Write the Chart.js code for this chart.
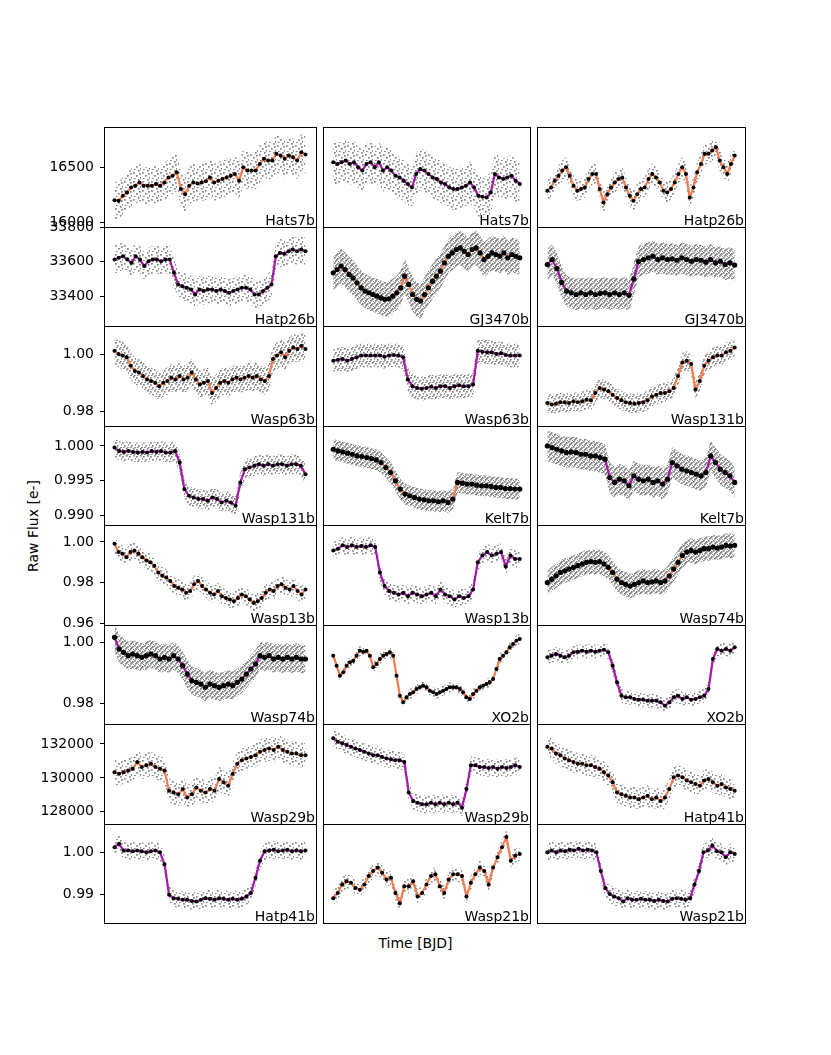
<!DOCTYPE html>
<html>
<head>
<meta charset="utf-8">
<script src="https://cdn.jsdelivr.net/npm/chart.js@4.4.1/dist/chart.umd.min.js"></script>
<style>
  body { margin: 0; background: #fff; width: 831px; height: 1055px; position: relative; overflow: hidden; }
  .lab { position: absolute; font-family: "DejaVu Sans", sans-serif; font-size: 14px; line-height: 16px; color: #000; white-space: nowrap; }
  #xlab { left: 0; width: 831px; top: 935px; text-align: center; }
  #ylab { left: 33px; top: 526px; transform: translate(-50%, -50%) rotate(-90deg); }
</style>
</head>
<body>
<div class="lab" id="xlab">Time [BJD]</div>
<div class="lab" id="ylab">Raw Flux [e-]</div>
<script>
// binned light curves (one array per panel)
const hats7b_1 = [16205,16199,16245,16276,16321,16337,16367,16337,16337,16337,16352,16337,16367,16413,16429,16459,16306,16260,16337,16367,16358,16367,16377,16413,16367,16383,16398,16413,16429,16444,16383,16505,16475,16475,16475,16536,16582,16567,16567,16628,16613,16582,16613,16597,16567,16643,16622];
const hats7b_2 = [16551,16536,16551,16567,16536,16551,16505,16475,16536,16551,16505,16551,16475,16505,16475,16429,16413,16383,16352,16321,16444,16490,16475,16444,16413,16398,16367,16352,16321,16306,16306,16321,16337,16367,16321,16245,16236,16230,16276,16444,16413,16398,16413,16429,16383,16352];
const hatp26b_1 = [16291,16321,16383,16429,16475,16505,16429,16337,16291,16306,16321,16398,16444,16444,16306,16184,16260,16321,16367,16398,16413,16321,16245,16199,16260,16306,16321,16398,16444,16413,16367,16291,16276,16306,16367,16444,16505,16444,16230,16321,16459,16536,16628,16628,16659,16689,16567,16505,16444,16536,16613];
const hatp26b_2 = [33612,33622,33631,33612,33593,33631,33612,33574,33602,33612,33612,33602,33612,33612,33535,33468,33458,33449,33439,33410,33439,33430,33439,33439,33430,33439,33430,33420,33430,33439,33449,33449,33439,33410,33410,33430,33449,33468,33631,33650,33646,33660,33670,33660,33670,33660];
const gj3470b_1 = [33535,33554,33574,33554,33526,33506,33478,33449,33430,33420,33410,33401,33391,33382,33385,33401,33420,33449,33516,33468,33410,33382,33372,33410,33449,33487,33516,33545,33593,33631,33650,33670,33679,33660,33641,33670,33679,33650,33612,33631,33650,33641,33631,33650,33622,33641,33631,33622];
const gj3470b_2 = [33583,33612,33560,33480,33430,33420,33410,33420,33410,33420,33410,33416,33420,33410,33420,33410,33420,33405,33500,33600,33612,33622,33631,33612,33622,33612,33616,33608,33622,33612,33602,33612,33608,33597,33612,33593,33602,33583,33593,33580];
const wasp63b_1 = [1.0014,1.0003,0.9997,0.9991,0.9961,0.9943,0.9937,0.9925,0.9913,0.9907,0.9901,0.9889,0.9901,0.9907,0.9919,0.9913,0.9925,0.9913,0.9919,0.9937,0.9913,0.9895,0.9901,0.9907,0.9865,0.9883,0.9901,0.9907,0.9901,0.9913,0.9919,0.9913,0.9919,0.9925,0.9919,0.9925,0.9913,0.9907,0.9925,0.9985,0.9997,1.0009,0.9991,1.0014,1.0026,1.0020,1.0032,1.0020];
const wasp63b_2 = [0.9979,0.9982,0.9985,0.9979,0.9985,0.9991,0.9997,0.9997,0.9997,0.9997,0.9997,0.9993,0.9997,0.9999,0.9997,0.9991,0.9913,0.9889,0.9883,0.9880,0.9883,0.9887,0.9883,0.9889,0.9889,0.9883,0.9889,0.9892,0.9889,0.9889,0.9895,1.0014,1.0011,1.0009,1.0009,1.0003,1.0005,0.9999,0.9997,0.9997,0.9997];
const wasp131b_1 = [0.9830,0.9824,0.9827,0.9832,0.9832,0.9830,0.9836,0.9832,0.9836,0.9841,0.9839,0.9865,0.9883,0.9877,0.9871,0.9859,0.9847,0.9839,0.9832,0.9830,0.9827,0.9830,0.9832,0.9839,0.9853,0.9859,0.9865,0.9865,0.9871,0.9883,0.9925,0.9973,0.9979,0.9967,0.9877,0.9907,0.9961,0.9979,0.9991,0.9997,0.9997,1.0009,1.0014,1.0026];
const wasp131b_2 = [0.99976,0.99928,0.99914,0.99928,0.99914,0.99904,0.99914,0.99904,0.99928,0.99914,0.99928,0.99904,0.99904,0.99928,0.99761,0.99378,0.99282,0.99258,0.99234,0.99234,0.99210,0.99258,0.99234,0.99186,0.99210,0.99186,0.99139,0.99474,0.99665,0.99689,0.99713,0.99737,0.99713,0.99737,0.99713,0.99737,0.99737,0.99713,0.99737,0.99737,0.99713,0.99593];
const kelt7b_1 = [0.99952,0.99928,0.99914,0.99895,0.99880,0.99856,0.99847,0.99832,0.99818,0.99799,0.99761,0.99689,0.99617,0.99497,0.99378,0.99306,0.99282,0.99258,0.99234,0.99225,0.99210,0.99210,0.99196,0.99210,0.99186,0.99234,0.99474,0.99464,0.99450,0.99450,0.99435,0.99426,0.99426,0.99416,0.99402,0.99402,0.99387,0.99387,0.99378,0.99378];
const kelt7b_2 = [1.00000,0.99976,0.99952,0.99928,0.99904,0.99914,0.99904,0.99880,0.99880,0.99856,0.99856,0.99832,0.99809,0.99545,0.99474,0.99521,0.99497,0.99426,0.99569,0.99521,0.99497,0.99521,0.99474,0.99497,0.99450,0.99521,0.99761,0.99713,0.99665,0.99641,0.99617,0.99593,0.99569,0.99617,0.99856,0.99761,0.99665,0.99617,0.99569,0.99474];
const wasp13b_1 = [0.99919,0.99502,0.99419,0.99252,0.99502,0.99586,0.99419,0.99252,0.99086,0.99002,0.98836,0.98503,0.98336,0.98253,0.98086,0.97836,0.97753,0.97670,0.97503,0.97586,0.97920,0.98086,0.97836,0.97670,0.97503,0.97420,0.97586,0.97336,0.97253,0.97170,0.97087,0.97253,0.97420,0.97336,0.97170,0.97003,0.97087,0.97253,0.97503,0.97670,0.97586,0.97836,0.97920,0.97753,0.97670,0.97836,0.97586,0.97420,0.97670];
const wasp13b_2 = [0.99586,0.99669,0.99835,0.99752,0.99835,0.99752,0.99802,0.99752,0.99835,0.99752,0.98503,0.97836,0.97586,0.97503,0.97420,0.97503,0.97336,0.97503,0.97420,0.97336,0.97420,0.97503,0.97336,0.97670,0.97420,0.97336,0.97170,0.97336,0.97253,0.97336,0.97670,0.99002,0.99336,0.99502,0.99336,0.99419,0.99502,0.98800,0.99336,0.99169,0.99169];
const wasp74b_1 = [0.98003,0.98170,0.98336,0.98503,0.98586,0.98669,0.98753,0.98836,0.98919,0.99002,0.99036,0.99002,0.99036,0.98919,0.98753,0.98503,0.98170,0.98003,0.97920,0.97836,0.97920,0.98003,0.98086,0.98003,0.98036,0.98086,0.98003,0.98086,0.98336,0.98669,0.99002,0.99336,0.99502,0.99586,0.99502,0.99586,0.99669,0.99669,0.99752,0.99702,0.99752,0.99835,0.99802,0.99835];
const wasp74b_2 = [1.00163,0.99780,0.99671,0.99561,0.99616,0.99561,0.99507,0.99561,0.99616,0.99561,0.99452,0.99507,0.99452,0.99561,0.99452,0.99234,0.98960,0.98742,0.98687,0.98632,0.98523,0.98632,0.98578,0.98523,0.98578,0.98632,0.98578,0.98687,0.98796,0.98960,0.99124,0.99288,0.99561,0.99507,0.99561,0.99452,0.99507,0.99452,0.99507,0.99452,0.99507,0.99452,0.99452];
const xo2b_1 = [0.99561,0.99234,0.98906,0.99015,0.99234,0.99343,0.99398,0.99561,0.99725,0.99693,0.99725,0.99561,0.99179,0.99288,0.99452,0.99561,0.99616,0.99671,0.99561,0.98906,0.98250,0.98031,0.98195,0.98305,0.98359,0.98469,0.98523,0.98578,0.98523,0.98414,0.98359,0.98305,0.98359,0.98414,0.98469,0.98523,0.98523,0.98523,0.98469,0.98359,0.98195,0.98141,0.98305,0.98414,0.98523,0.98578,0.98632,0.98687,0.98796,0.99124,0.99452,0.99561,0.99671,0.99835,0.99944,1.00053,1.00108];
const xo2b_2 = [0.99507,0.99561,0.99616,0.99561,0.99507,0.99561,0.99671,0.99693,0.99725,0.99693,0.99725,0.99693,0.99725,0.99758,0.99671,0.99234,0.98687,0.98250,0.98195,0.98195,0.98141,0.98119,0.98119,0.98086,0.98086,0.98086,0.98031,0.97922,0.98031,0.98195,0.98250,0.98141,0.98195,0.98119,0.98141,0.98195,0.98250,0.98469,0.99452,0.99780,0.99725,0.99780,0.99725,0.99835];
const wasp29b_1 = [130341,130241,130341,130441,130541,130940,130641,130740,130840,130641,130541,130441,129242,129142,129042,129342,128842,129042,129442,129242,129142,129342,129242,129941,129741,129542,130241,130840,131040,131140,131240,131340,131540,131640,131739,131640,131839,131640,131540,131440,131440,131340,131340];
const wasp29b_2 = [132339,132139,132039,131939,131839,131739,131640,131540,131440,131340,131340,131240,131140,131100,131040,131040,130940,129142,128643,128543,128443,128443,128543,128443,128543,128443,128543,128443,128543,128243,129342,130740,130740,130641,130641,130581,130641,130541,130641,130581,130641,130740,130641];
const hatp41b_1 = [131839,131739,131440,131340,131140,131040,130940,130840,130840,130740,130740,130641,130541,130341,130141,129741,129142,129042,128942,128842,128842,128742,128842,128942,128742,128842,128643,128842,129342,130041,130141,130041,129841,129741,129642,129542,129841,129941,129741,129542,129642,129442,129342,129242];
const hatp41b_2 = [1.00122,1.00204,1.00041,1.00041,1.00025,1.00041,1.00025,1.00000,1.00025,1.00041,1.00000,0.99715,0.98983,0.98901,0.98885,0.98861,0.98861,0.98836,0.98820,0.98861,0.98901,0.98885,0.98861,0.98901,0.98885,0.98861,0.98885,0.98861,0.98885,0.98942,0.99024,0.99390,0.99797,1.00025,1.00041,1.00057,1.00025,1.00041,1.00057,1.00025,1.00041,1.00025,1.00041];
const wasp21b_1 = [0.98901,0.99024,0.99227,0.99308,0.99268,0.99146,0.99105,0.99227,0.99431,0.99553,0.99634,0.99512,0.99349,0.99390,0.99024,0.98779,0.99186,0.99186,0.99308,0.98942,0.99024,0.99227,0.99431,0.99471,0.99186,0.99024,0.99349,0.99471,0.99471,0.99431,0.98942,0.99268,0.99471,0.99634,0.99553,0.99227,0.99634,0.99878,1.00122,1.00367,0.99797,0.99919,0.99960];
const wasp21b_2 = [1.00000,1.00041,1.00000,1.00041,1.00025,1.00057,1.00041,1.00082,1.00041,1.00057,1.00041,1.00000,0.99553,0.99146,0.98999,0.98942,0.98901,0.98820,0.98901,0.98861,0.98861,0.98885,0.98861,0.98861,0.98836,0.98861,0.98836,0.98820,0.98885,0.98901,0.98885,0.98861,0.98901,0.99227,0.99553,1.00000,1.00041,1.00163,1.00025,1.00000,0.99878,1.00000,0.99960];

const names = ["Hats7b","Hats7b","Hatp26b","Hatp26b","GJ3470b","GJ3470b","Wasp63b","Wasp63b","Wasp131b","Wasp131b","Kelt7b","Kelt7b","Wasp13b","Wasp13b","Wasp74b","Wasp74b","XO2b","XO2b","Wasp29b","Wasp29b","Hatp41b","Hatp41b","Wasp21b","Wasp21b"];
// half width of the raw (unbinned) scatter around each curve
const scatter = [170,190,95,80,100,90,0.0048,0.0042,0.0034,0.0014,0.0015,0.0022,0.0042,0.0042,0.006,0.0046,0.0017,0.0023,720,520,620,0.0021,0.0017,0.0021];

// y range and ticks, shared along each row
const rowMin = [15960, 33228, 0.97485, 0.98861, 0.9592, 0.97322, 127284, 0.98307];
const rowMax = [16873, 33800, 1.01015, 1.00287, 1.00835, 1.00567, 133178, 1.00676];
const rowTicks = [[16000,16500],[33400,33600,33800],[0.98,1.00],[0.990,0.995,1.000],[0.96,0.98,1.00],[0.98,1.00],[128000,130000,132000],[0.99,1.00]];
const rowTickLabels = [["16000","16500"],["33400","33600","33800"],["0.98","1.00"],["0.990","0.995","1.000"],["0.96","0.98","1.00"],["0.98","1.00"],["128000","130000","132000"],["0.99","1.00"]];

const fluxes = [hats7b_1,hats7b_2,hatp26b_1,hatp26b_2,gj3470b_1,gj3470b_2,wasp63b_1,wasp63b_2,wasp131b_1,wasp131b_2,kelt7b_1,kelt7b_2,wasp13b_1,wasp13b_2,wasp74b_1,wasp74b_2,xo2b_1,xo2b_2,wasp29b_1,wasp29b_2,hatp41b_1,hatp41b_2,wasp21b_1,wasp21b_2];

// layout / style
const colX = [104, 319, 533, 748];
const rowY = [127, 227, 326, 426, 525, 625, 724, 824, 923];
const axisW = 80;
const lineColor = ['#f47c50', '#a41aa6'];
const cloud = "sssshhmmmmhhsshhssssssss";

Chart.defaults.font.family = '"DejaVu Sans", sans-serif';
Chart.defaults.font.size = 14;
Chart.defaults.color = '#000';

function stipple(kind) {
    const tiles = {
        s: [9, [[1,2],[6,0],[4,5],[8,7],[2,8],[7,3]]],
        m: [7, [[0,1],[4,0],[2,4],[6,3],[5,6],[1,6]]],
        h: [5, [[0,0],[3,1],[1,3],[4,4],[2,2]]]
    };
    const [size, dots] = tiles[kind];
    const t = document.createElement('canvas');
    t.width = size; t.height = size;
    const g = t.getContext('2d');
    g.fillStyle = 'rgba(125,125,125,0.95)';
    dots.forEach(d => g.fillRect(d[0], d[1], 1.7, 1.7));
    return g.createPattern(t, 'repeat');
}

// box round each panel + the target name bottom right
const frame = {
    id: 'frame',
    afterDraw(chart, args, opts) {
        const ctx = chart.ctx, a = chart.chartArea;
        ctx.save();
        ctx.strokeStyle = '#000';
        ctx.lineWidth = 1;
        ctx.strokeRect(a.left + 0.5, a.top + 0.5, a.right - a.left, a.bottom - a.top);
        ctx.font = '14px "DejaVu Sans"';
        ctx.fillStyle = '#000';
        ctx.textAlign = 'right';
        ctx.textBaseline = 'alphabetic';
        ctx.fillText(opts.name, a.right - 1, a.bottom - 2);
        ctx.restore();
    }
};

fluxes.forEach((flux, p) => {
    const r = Math.floor(p / 3), c = p % 3;
    const first = c === 0;
    const extL = first ? axisW : 0;
    const w = colX[c + 1] - colX[c] + extL + 1;
    const h = rowY[r + 1] - rowY[r] + 40;
    const cv = document.createElement('canvas');
    cv.width = w; cv.height = h;
    cv.style.cssText = 'position:absolute;left:' + (colX[c] - extL) + 'px;top:' + (rowY[r] - 20) + 'px;width:' + w + 'px;height:' + h + 'px';
    document.body.appendChild(cv);

    const n = flux.length;
    const s = scatter[p];
    const pts = flux.map((v, i) => ({x: i, y: v}));
    const dense = cloud[p] === 'h';

    const yScale = {
        display: first,
        min: rowMin[r],
        max: rowMax[r],
        afterBuildTicks: sc => { sc.ticks = rowTicks[r].map(v => ({value: v})); },
        grid: {display: true, drawOnChartArea: false, drawTicks: true, tickLength: 4, color: '#000', lineWidth: 1},
        border: {display: false},
        ticks: {autoSkip: false, padding: 6, color: '#000', font: {size: 14}, callback: (v, i) => rowTickLabels[r][i]}
    };
    if (first) yScale.afterFit = sc => { sc.width = axisW; };

    new Chart(cv, {
        type: 'line',
        data: {
            datasets: [
                {data: pts, showLine: false, pointRadius: dense ? 2.6 : 2, pointBackgroundColor: '#000', pointBorderWidth: 0, fill: false, order: 0},
                {data: pts, borderColor: lineColor[p % 2], borderWidth: 2.2, pointRadius: 0, tension: 0, fill: false, order: 1},
                {data: flux.map((v, i) => ({x: i, y: v + s})), borderWidth: 0, pointRadius: 0, fill: '+1', backgroundColor: stipple(cloud[p]), order: 2},
                {data: flux.map((v, i) => ({x: i, y: v - s})), borderWidth: 0, pointRadius: 0, fill: false, order: 3}
            ]
        },
        options: {
            responsive: false,
            animation: false,
            events: [],
            layout: {padding: {top: 20, bottom: 20, left: 0, right: 1}},
            plugins: {legend: {display: false}, tooltip: {enabled: false}, frame: {name: names[p]}},
            scales: {
                x: {type: 'linear', display: false, min: -0.055 * (n - 1), max: 1.055 * (n - 1)},
                y: yScale
            }
        },
        plugins: [frame]
    });
});
</script>
</body>
</html>
